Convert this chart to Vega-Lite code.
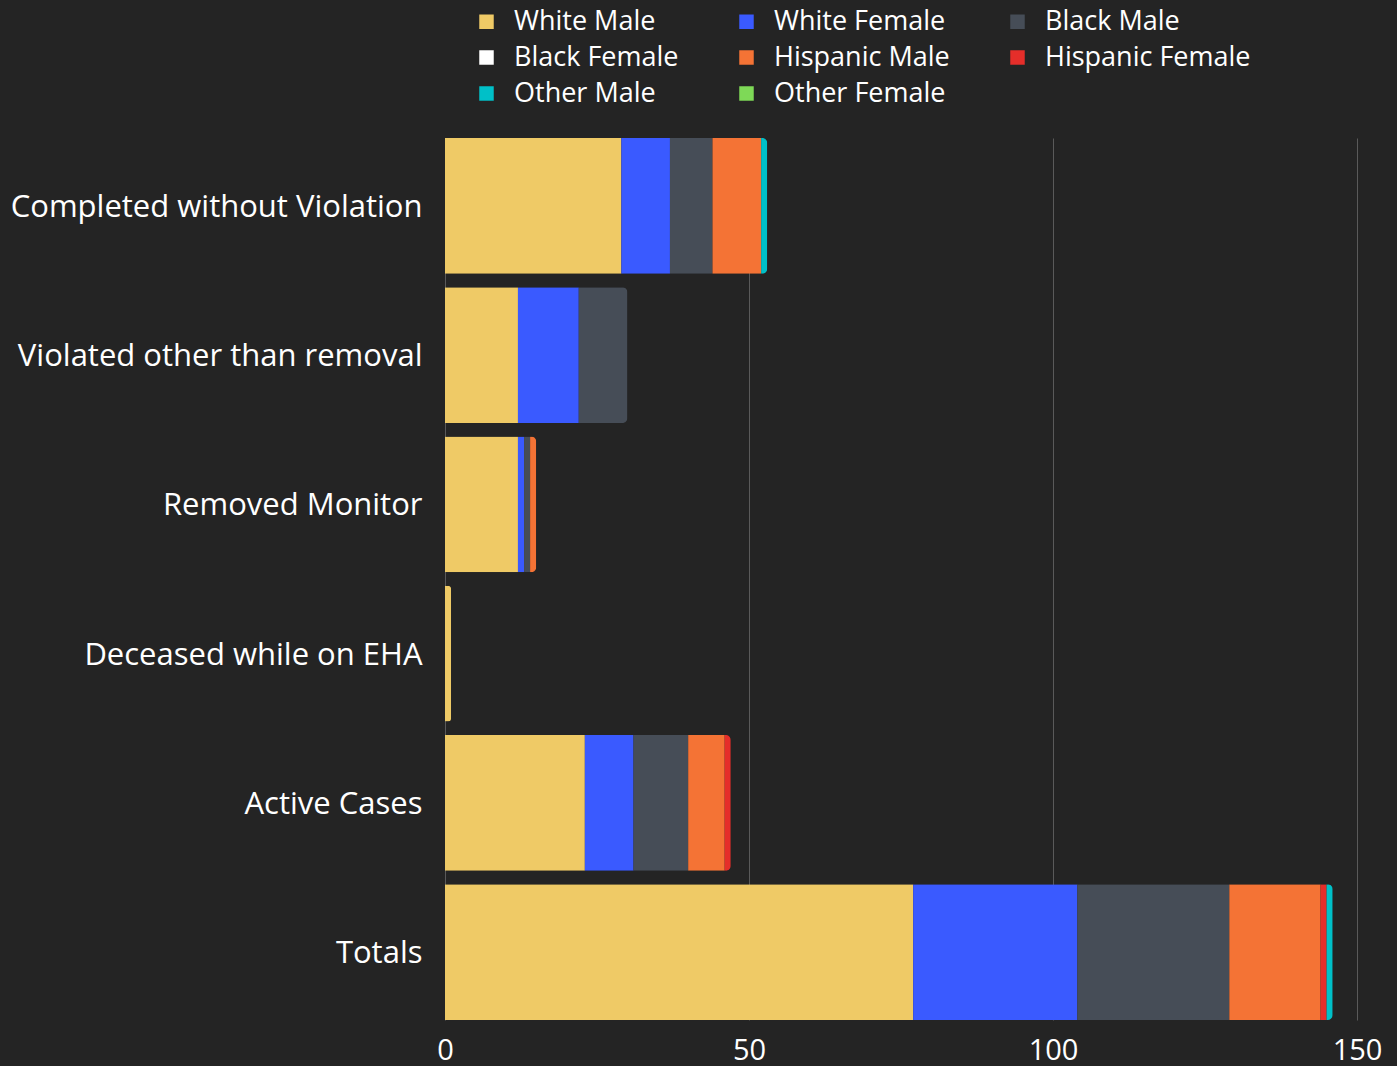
{
  "$schema": "https://vega.github.io/schema/vega-lite/v6.json",
  "autosize": "none",
  "width": 912,
  "height": 882,
  "padding": {"left": 445, "top": 138, "right": 40, "bottom": 46},
  "background": "#242424",
  "config": {
    "view": {"stroke": null},
    "font": "Open Sans",
    "legend": {"labelColor": "#ffffff", "labelFontSize": 27, "labelLimit": 400, "symbolType": "square", "symbolSize": 210, "symbolStrokeWidth": 0, "columnPadding": 54, "rowPadding": 8, "labelOffset": 14}
  },
  "data": {
    "values": [
      {"status": "Completed without Violation", "group": "White Male", "count": 29},
      {"status": "Completed without Violation", "group": "White Female", "count": 8},
      {"status": "Completed without Violation", "group": "Black Male", "count": 7},
      {"status": "Completed without Violation", "group": "Hispanic Male", "count": 8},
      {"status": "Completed without Violation", "group": "Other Male", "count": 1},
      {"status": "Violated other than removal", "group": "White Male", "count": 12},
      {"status": "Violated other than removal", "group": "White Female", "count": 10},
      {"status": "Violated other than removal", "group": "Black Male", "count": 8},
      {"status": "Removed Monitor", "group": "White Male", "count": 12},
      {"status": "Removed Monitor", "group": "White Female", "count": 1},
      {"status": "Removed Monitor", "group": "Black Male", "count": 1},
      {"status": "Removed Monitor", "group": "Hispanic Male", "count": 1},
      {"status": "Deceased while on EHA", "group": "White Male", "count": 1},
      {"status": "Active Cases", "group": "White Male", "count": 23},
      {"status": "Active Cases", "group": "White Female", "count": 8},
      {"status": "Active Cases", "group": "Black Male", "count": 9},
      {"status": "Active Cases", "group": "Hispanic Male", "count": 6},
      {"status": "Active Cases", "group": "Hispanic Female", "count": 1},
      {"status": "Totals", "group": "White Male", "count": 77},
      {"status": "Totals", "group": "White Female", "count": 27},
      {"status": "Totals", "group": "Black Male", "count": 25},
      {"status": "Totals", "group": "Hispanic Male", "count": 15},
      {"status": "Totals", "group": "Hispanic Female", "count": 1},
      {"status": "Totals", "group": "Other Male", "count": 1}
    ]
  },
  "transform": [
    {"calculate": "indexof(['White Male', 'White Female', 'Black Male', 'Black Female', 'Hispanic Male', 'Hispanic Female', 'Other Male', 'Other Female'], datum.group)", "as": "stackOrder"}
  ],
  "mark": {"type": "bar", "cornerRadiusEnd": 5},
  "encoding": {
    "y": {
      "field": "status", "type": "nominal",
      "sort": ["Completed without Violation", "Violated other than removal", "Removed Monitor", "Deceased while on EHA", "Active Cases", "Totals"],
      "scale": {"paddingInner": 0.09, "paddingOuter": 0},
      "axis": {"title": null, "labelColor": "#ffffff", "labelFontSize": 31, "labelPadding": 23, "labelOffset": 2, "ticks": false, "domain": false, "labelLimit": 500}
    },
    "x": {
      "field": "count", "type": "quantitative", "stack": "zero",
      "scale": {"domain": [0, 150], "nice": false},
      "axis": {"title": null, "values": [0, 50, 100, 150], "labelColor": "#ffffff", "labelFontSize": 29, "labelPadding": 16, "ticks": false, "domain": false, "gridColor": "#5a5a5a", "gridWidth": 1, "labelFlush": false}
    },
    "order": {"field": "stackOrder", "type": "quantitative", "sort": "ascending"},
    "color": {
      "field": "group", "type": "nominal",
      "sort": ["White Male", "White Female", "Black Male", "Black Female", "Hispanic Male", "Hispanic Female", "Other Male", "Other Female"],
      "scale": {
        "domain": ["White Male", "White Female", "Black Male", "Black Female", "Hispanic Male", "Hispanic Female", "Other Male", "Other Female"],
        "range": ["#EFCA66", "#3A5AFF", "#464D57", "#FFFFFF", "#F47335", "#E52E2A", "#00C0C8", "#7ED957"]
      },
      "legend": {"title": null, "orient": "none", "direction": "horizontal", "columns": 3, "legendX": 28, "legendY": -130}
    }
  }
}
